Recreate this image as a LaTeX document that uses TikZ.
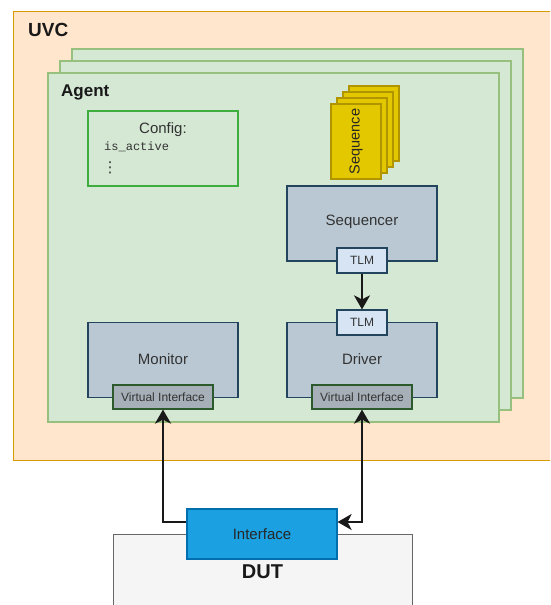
\documentclass[tikz,border=0pt]{standalone}
\usepackage{fontspec}
\setmainfont{Liberation Sans}
\newfontfamily\codefont{Liberation Mono}
\newfontfamily\symfont{DejaVu Sans}
\usetikzlibrary{arrows.meta}

\definecolor{uvcfill}{HTML}{FFE6CC}
\definecolor{uvcline}{HTML}{D79B00}
\definecolor{agentfill}{HTML}{D5E8D4}
\definecolor{agentline}{HTML}{97BF7E}
\definecolor{cfgline}{HTML}{3DAE3D}
\definecolor{compfill}{HTML}{BAC8D3}
\definecolor{compline}{HTML}{23445D}
\definecolor{tlmfill}{HTML}{D6E4F3}
\definecolor{vifill}{HTML}{A7B0B8}
\definecolor{viline}{HTML}{2D5A2D}
\definecolor{seqfill}{HTML}{E3C800}
\definecolor{seqline}{HTML}{B09500}
\definecolor{dutfill}{HTML}{F5F5F5}
\definecolor{dutline}{HTML}{666666}
\definecolor{iffill}{HTML}{1BA1E2}
\definecolor{ifline}{HTML}{006EAF}
\definecolor{labeltext}{HTML}{333333}

\tikzset{
  box/.style={rectangle, draw, line width=1.2pt, inner sep=0pt, font=\fontsize{15}{18}\selectfont, text=labeltext},
  agentbox/.style={box, fill=agentfill, draw=agentline, minimum width=451pt, minimum height=349pt},
  comp/.style={box, fill=compfill, draw=compline, minimum width=150pt, minimum height=75pt},
  tlmport/.style={box, fill=tlmfill, draw=compline, minimum width=50pt, minimum height=25pt, font=\fontsize{12}{14}\selectfont},
  viport/.style={box, fill=vifill, draw=viline, minimum width=100pt, minimum height=24pt, font=\fontsize{12}{14}\selectfont},
  card/.style={box, fill=seqfill, draw=seqline, minimum width=50pt, minimum height=75pt, font=\fontsize{14.5}{17}\selectfont, text=black!85},
  title/.style={inner sep=0pt, anchor=west, font=\bfseries\fontsize{17}{20}\selectfont, text=black!90},
  label/.style={inner sep=0pt, font=\fontsize{15}{18}\selectfont, text=labeltext},
  conn/.style={line width=2pt, draw=black!90},
  oneway/.style={conn, arrows={-Stealth[length=14pt, width=16pt, inset=4pt]}},
  twoway/.style={conn, arrows={Stealth[length=14pt, width=16pt, inset=4pt]-Stealth[length=14pt, width=16pt, inset=4pt]}}
}

\begin{document}
\begin{tikzpicture}[x=1pt, y=-1pt]
\useasboundingbox (0,0) rectangle (550,605);
\clip (0,0) rectangle (550,605);

% verification component container
\node[box, fill=uvcfill, draw=uvcline, minimum width=560pt, minimum height=449pt, anchor=north west] (uvc) at (13,11) {};
\node[title, font=\bfseries\fontsize{19}{22}\selectfont] (uvclabel) at (28,30) {UVC};

% stacked agents
\node[agentbox] (agent3) at (297.5,223.5) {};
\node[agentbox] (agent2) at (285.5,235.5) {};
\node[agentbox] (agent1) at (273.5,247.5) {};
\node[title] (agentlabel) at (61,92) {Agent};

% configuration object
\node[box, fill=agentfill, draw=cfgline, minimum width=150pt, minimum height=75pt] (config) at (163,148.5) {};
\node[label] (cfgtitle) at (163,130) {Config:};
\node[font=\codefont\fontsize{12}{14}\selectfont, text=labeltext, inner sep=0pt, anchor=west] (cfgfield) at (104,147) {is\_active};
\node[font=\symfont\fontsize{15}{18}\selectfont, text=labeltext, inner sep=0pt] (cfgdots) at (110,167.5) {⋮};

% sequence items
\node[card] (seq4) at (374,123.5) {};
\node[card] (seq3) at (368,129.5) {};
\node[card] (seq2) at (362,135.5) {};
\node[card] (seq1) at (356,141.5) {};
\node[rotate=90, font=\fontsize{14.5}{17}\selectfont, text=black!85, inner sep=0pt] (seqlabel) at (seq1.center) {Sequence};

% sequencer and driver
\node[comp] (sequencer) at (362,223.5) {};
\node[label] (seqrlabel) at (362,222) {Sequencer};
\node[tlmport] (tlmseq) at (362,260.5) {TLM};

\node[comp] (driver) at (362,360) {};
\node[label] (drvlabel) at (362,359) {Driver};
\node[tlmport] (tlmdrv) at (362,322.5) {TLM};
\node[viport] (vidrv) at (362,397) {Virtual Interface};

% monitor
\node[comp] (monitor) at (163,360) {};
\node[label] (monlabel) at (163,359) {Monitor};
\node[viport] (vimon) at (163,397) {Virtual Interface};

% device under test
\node[box, fill=dutfill, draw=dutline, minimum width=299pt, minimum height=90pt, anchor=north west] (dut) at (113,534) {};
\node[inner sep=0pt, font=\bfseries\fontsize{20}{24}\selectfont, text=black!90] (dutlabel) at (262.5,572) {DUT};
\node[box, fill=iffill, draw=ifline, minimum width=150pt, minimum height=50pt, text=black!85] (iface) at (262,534) {Interface};

% connections
\draw[oneway] (tlmseq.south) -- (tlmdrv.north);
\draw[oneway] ([yshift=12pt]iface.west) -| (vimon.south);
\draw[twoway] (vidrv.south) |- ([yshift=12pt]iface.east);
\end{tikzpicture}
\end{document}
